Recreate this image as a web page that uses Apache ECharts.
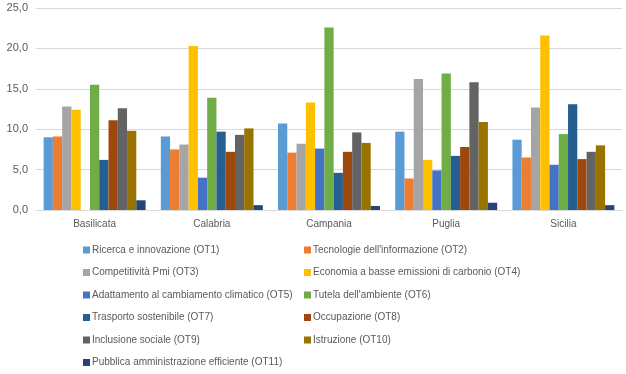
<!DOCTYPE html>
<html><head><meta charset="utf-8">
<script src="https://cdn.jsdelivr.net/npm/echarts@6/dist/echarts.min.js"></script>
<style>html,body{margin:0;padding:0;background:#fff}#c{width:626px;height:374px}</style>
</head><body><div id="c"></div>
<script>
const categories = ['Basilicata','Calabria','Campania','Puglia','Sicilia'];
const seriesNames = [
 'Ricerca e innovazione (OT1)','Tecnologie dell\'informazione (OT2)','Competitività Pmi (OT3)',
 'Economia a basse emissioni di carbonio (OT4)','Adattamento al cambiamento climatico (OT5)',
 'Tutela dell\'ambiente (OT6)','Trasporto sostenibile (OT7)','Occupazione (OT8)',
 'Inclusione sociale (OT9)','Istruzione (OT10)','Pubblica amministrazione efficiente (OT11)'];
const OT1 = [9.0, 9.1, 10.7, 9.7, 8.7];
const OT2 = [9.1, 7.5, 7.1, 3.9, 6.5];
const OT3 = [12.8, 8.1, 8.2, 16.2, 12.7];
const OT4 = [12.4, 20.3, 13.3, 6.2, 21.6];
const OT5 = [0.0, 4.0, 7.6, 4.9, 5.6];
const OT6 = [15.5, 13.9, 22.6, 16.9, 9.4];
const OT7 = [6.2, 9.7, 4.6, 6.7, 13.1];
const OT8 = [11.1, 7.2, 7.2, 7.8, 6.3];
const OT9 = [12.6, 9.3, 9.6, 15.8, 7.2];
const OT10 = [9.8, 10.1, 8.3, 10.9, 8.0];
const OT11 = [1.2, 0.6, 0.5, 0.9, 0.6];
const values = [OT1,OT2,OT3,OT4,OT5,OT6,OT7,OT8,OT9,OT10,OT11];
const colors = ['#5B9BD5','#ED7D31','#A5A5A5','#FFC000','#4472C4','#70AD47','#255E91','#9E480E','#636363','#997300','#264478'];
const FONT = 'Liberation Sans';
const chart = echarts.init(document.getElementById('c'), null, {renderer:'canvas'});
const legendCommon = {orient:'vertical', itemWidth:7, itemHeight:7, itemGap:12.5, icon:'rect',
  textStyle:{fontFamily:FONT, fontSize:10, color:'#595959', padding:[0,0,0,-3]}, padding:0};
chart.setOption({
  animation:false,
  color: colors,
  grid:{left:36, right:4, top:8, bottom:164},
  xAxis:{type:'category', data:categories,
    axisLine:{lineStyle:{color:'#D9D9D9'}}, axisTick:{show:false},
    axisLabel:{fontFamily:FONT, fontSize:10, color:'#595959', margin:9}},
  yAxis:{type:'value', min:0, max:25, interval:5,
    axisLine:{show:false}, axisTick:{show:false},
    splitLine:{lineStyle:{color:'#D9D9D9'}},
    axisLabel:{fontFamily:FONT, fontSize:11, color:'#595959', margin:8,
      formatter: v => v.toFixed(1).replace('.', ',')}},
  legend:[
    Object.assign({}, legendCommon, {left:83, top:245, data: seriesNames.filter((_, i) => i % 2 === 0)}),
    Object.assign({}, legendCommon, {left:304, top:245, data: seriesNames.filter((_, i) => i % 2 === 1)})
  ],
  series: values.map((d, i) => ({
    name: seriesNames[i], type:'bar', data:d, barGap:'0%', barCategoryGap:'13%'
  }))
});
</script></body></html>
